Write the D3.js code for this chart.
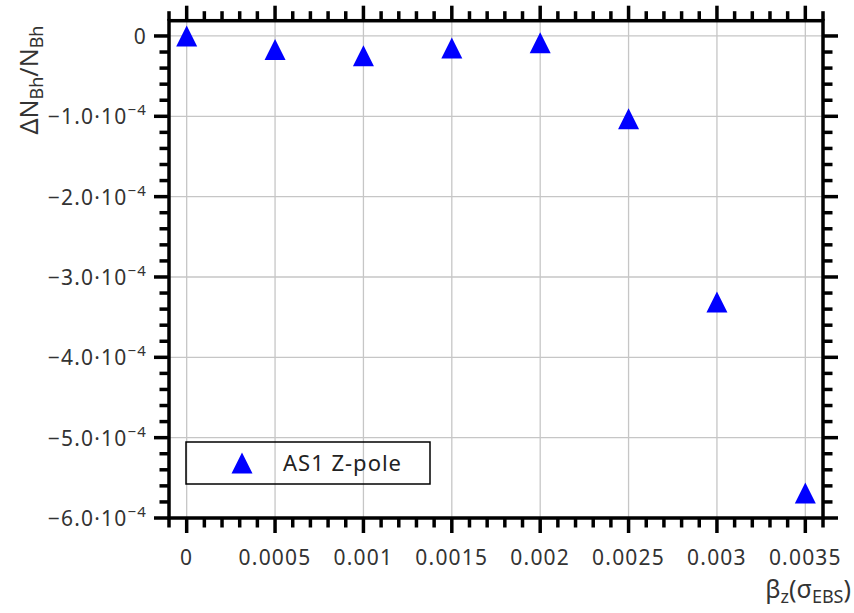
<!DOCTYPE html>
<html>
<head>
<meta charset="utf-8">
<script src="https://cdn.jsdelivr.net/npm/d3@7"></script>
<style>
  html, body { margin: 0; padding: 0; background: #fff; }
  svg { display: block; }
  text { font-family: "Noto Sans", "Open Sans", sans-serif; fill: #333; }
</style>
</head>
<body>
<svg id="chart" width="854" height="613"></svg>
<script>
// ---- data ----
const xValues = [0, 0.0005, 0.001, 0.0015, 0.002, 0.0025, 0.003, 0.0035];
const yValues = [0, -1.7e-5, -2.45e-5, -1.5e-5, -0.85e-5, -1.03e-4, -3.31e-4, -5.69e-4];
const seriesName = "AS1 Z-pole";
const xMajorTicks = [0, 0.0005, 0.001, 0.0015, 0.002, 0.0025, 0.003, 0.0035];
const xTickLabels = ["0", "0.0005", "0.001", "0.0015", "0.002", "0.0025", "0.003", "0.0035"];
const yMajorTicks = [0, -1e-4, -2e-4, -3e-4, -4e-4, -5e-4, -6e-4];
const yTickMantissa = ["0", "−1.0·10", "−2.0·10", "−3.0·10", "−4.0·10", "−5.0·10", "−6.0·10"];
const yTickExponent = ["", "−4", "−4", "−4", "−4", "−4", "−4"];

// ---- layout ----
const W = 854, H = 613;
const L = 169, R = 823, T = 20.7, B = 518;
const svg = d3.select("#chart");

const x = d3.scaleLinear().domain([-0.0001, 0.0036]).range([L, R]);
const y = d3.scaleLinear().domain([-6e-4, 0.19e-4]).range([B, T]);

const xMinor = d3.range(-1, 37).map(i => i * 0.0001).filter(v => v >= -0.0001 - 1e-12 && v <= 0.0036 + 1e-12);
const yMinor = d3.range(-30, 1).map(i => i * 0.2e-4).filter(v => v >= -6e-4 - 1e-12);
const isMajorX = v => xMajorTicks.some(m => Math.abs(m - v) < 1e-9);
const isMajorY = v => yMajorTicks.some(m => Math.abs(m - v) < 1e-12);

// grid
const grid = svg.append("g").attr("stroke", "#c6c6c6").attr("stroke-width", 1.3);
grid.selectAll("line.gx").data(xMajorTicks).join("line")
  .attr("x1", d => x(d)).attr("x2", d => x(d)).attr("y1", T).attr("y2", B);
grid.selectAll("line.gy").data(yMajorTicks).join("line")
  .attr("y1", d => y(d)).attr("y2", d => y(d)).attr("x1", L).attr("x2", R);

// ticks (outward) on all four sides
const tickG = svg.append("g").attr("stroke", "#000").attr("stroke-width", 3.5);
const majLen = 15, minLen = 9.5;
tickG.selectAll("line.tb").data(xMinor).join("line")
  .attr("x1", d => x(d)).attr("x2", d => x(d))
  .attr("y1", B).attr("y2", d => B + (isMajorX(d) ? majLen : minLen));
tickG.selectAll("line.tt").data(xMinor).join("line")
  .attr("x1", d => x(d)).attr("x2", d => x(d))
  .attr("y1", T).attr("y2", d => T - (isMajorX(d) ? majLen : minLen));
tickG.selectAll("line.tl").data(yMinor).join("line")
  .attr("y1", d => y(d)).attr("y2", d => y(d))
  .attr("x1", L).attr("x2", d => L - (isMajorY(d) ? majLen : minLen));
tickG.selectAll("line.tr").data(yMinor).join("line")
  .attr("y1", d => y(d)).attr("y2", d => y(d))
  .attr("x1", R).attr("x2", d => R + (isMajorY(d) ? majLen : minLen));

// frame
svg.append("rect").attr("x", L).attr("y", T).attr("width", R - L).attr("height", B - T)
  .attr("fill", "none").attr("stroke", "#000").attr("stroke-width", 3.5);

// x tick labels
svg.append("g").selectAll("text").data(xMajorTicks).join("text")
  .attr("x", d => x(d)).attr("y", 565)
  .attr("text-anchor", "middle").attr("font-size", 21).attr("letter-spacing", 1.2)
  .text((d, i) => xTickLabels[i]);

// y tick labels
const yl = svg.append("g").selectAll("text").data(yMajorTicks).join("text")
  .attr("x", 147).attr("y", d => y(d) + 8)
  .attr("text-anchor", "end").attr("font-size", 21).attr("letter-spacing", 1.2);
yl.append("tspan").text((d, i) => yTickMantissa[i]);
yl.append("tspan").attr("dy", -9).attr("font-size", 15).text((d, i) => yTickExponent[i]);

// y axis title
const yt = svg.append("text")
  .attr("transform", "translate(38,80) rotate(-90)")
  .attr("text-anchor", "middle").attr("font-size", 25);
yt.append("tspan").text("ΔN");
yt.append("tspan").attr("dy", 5).attr("font-size", 18).text("Bh");
yt.append("tspan").attr("dy", -5).text("/N");
yt.append("tspan").attr("dy", 5).attr("font-size", 18).text("Bh");

// x axis title
const xt = svg.append("text")
  .attr("x", 851).attr("y", 598)
  .attr("text-anchor", "end").attr("font-size", 25);
xt.append("tspan").text("β");
xt.append("tspan").attr("dy", 5).attr("font-size", 18).text("z");
xt.append("tspan").attr("dy", -5).text("(σ");
xt.append("tspan").attr("dy", 5).attr("font-size", 18).text("EBS");
xt.append("tspan").attr("dy", -5).text(")");

// triangle marker symbol (width 21, height 21, bbox-centred)
const triSymbol = {
  draw(ctx, size) {
    const w = Math.sqrt(size), h = w;
    ctx.moveTo(0, -h / 2);
    ctx.lineTo(w / 2, h / 2);
    ctx.lineTo(-w / 2, h / 2);
    ctx.closePath();
  }
};
const sym = d3.symbol().type(triSymbol).size(21 * 21);

const pts = xValues.map((v, i) => ({ x: v, y: yValues[i] }));
svg.append("g").selectAll("path").data(pts).join("path")
  .attr("transform", d => `translate(${x(d.x)},${y(d.y)})`)
  .attr("d", sym).attr("fill", "#0000ff");

// legend
const lg = svg.append("g");
lg.append("rect").attr("x", 186).attr("y", 442).attr("width", 244).attr("height", 42)
  .attr("fill", "none").attr("stroke", "#000").attr("stroke-width", 1.5);
lg.append("path").attr("transform", "translate(242,463)").attr("d", sym).attr("fill", "#0000ff");
lg.append("text").attr("x", 283).attr("y", 471).attr("font-size", 22).attr("letter-spacing", 1)
  .style("fill", "#222").text(seriesName);
</script>
</body>
</html>
